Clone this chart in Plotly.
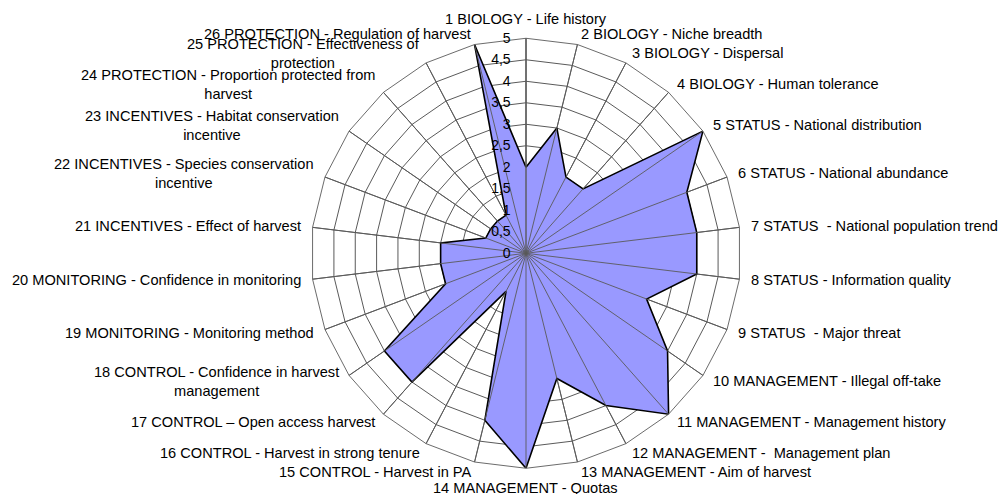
import math
import plotly.graph_objects as go

# Indicator labels, clockwise from the top
categories = [
    "1 BIOLOGY - Life history",
    "2 BIOLOGY - Niche breadth",
    "3 BIOLOGY - Dispersal",
    "4 BIOLOGY - Human tolerance",
    "5 STATUS - National distribution",
    "6 STATUS - National abundance",
    "7 STATUS\u00a0 - National population trend",
    "8 STATUS - Information quality",
    "9 STATUS\u00a0 - Major threat",
    "10 MANAGEMENT - Illegal off-take",
    "11 MANAGEMENT - Management history",
    "12 MANAGEMENT -\u00a0 Management plan",
    "13 MANAGEMENT - Aim of harvest",
    "14 MANAGEMENT - Quotas",
    "15 CONTROL - Harvest in PA",
    "16 CONTROL - Harvest in strong tenure",
    "17 CONTROL \u2013 Open access harvest",
    "18 CONTROL - Confidence in harvest<br>management",
    "19 MONITORING - Monitoring method",
    "20 MONITORING - Confidence in monitoring",
    "21 INCENTIVES - Effect of harvest",
    "22 INCENTIVES - Species conservation<br>incentive",
    "23 INCENTIVES - Habitat conservation<br>incentive",
    "24 PROTECTION - Proportion protected from<br>harvest",
    "25 PROTECTION - Effectiveness of<br>protection",
    "26 PROTECTION - Regulation of harvest",
]

# Score for each indicator (0-5)
scores = [2, 3, 2, 2, 5, 4, 4, 4, 3, 4, 5, 4, 3, 5, 4, 1, 4, 4, 2, 2, 2, 1, 1, 1, 1, 5]

radial_ticks = [0, 0.5, 1, 1.5, 2, 2.5, 3, 3.5, 4, 4.5, 5]
r_max = 5

GRID = "#5a5a5a"
FONT = "Liberation Sans, Arial, sans-serif"

W, H = 1000, 494
DOM_X = [0.311, 0.741]
DOM_Y = [0.0516, 0.923]

fig = go.Figure()

# Filled score polygon
fig.add_trace(go.Scatterpolar(
    r=scores + scores[:1],
    theta=categories + categories[:1],
    mode="lines",
    fill="toself",
    fillcolor="#9999FF",
    line=dict(color="black", width=1.6),
    hoverinfo="skip",
    showlegend=False,
))

# Spokes redrawn over the fill
spoke_r, spoke_t = [], []
for c in categories:
    spoke_r += [0, r_max, None]
    spoke_t += [c, c, None]
fig.add_trace(go.Scatterpolar(
    r=spoke_r,
    theta=spoke_t,
    mode="lines",
    line=dict(color=GRID, width=0.9),
    hoverinfo="skip",
    showlegend=False,
    connectgaps=False,
))

# Category labels set just outside the outer ring, anchored by direction
cx = (DOM_X[0] + DOM_X[1]) / 2          # paper units
cy = (DOM_Y[0] + DOM_Y[1]) / 2
radius_px = min((DOM_X[1] - DOM_X[0]) * W, (DOM_Y[1] - DOM_Y[0]) * H) / 2
label_gap = 10.7
n = len(categories)
annotations = []
for i, label in enumerate(categories):
    ang = 2 * math.pi * i / n            # clockwise from the top
    s, c = math.sin(ang), math.cos(ang)
    dist = radius_px + label_gap
    x = cx + dist * s / W
    y = cy + dist * c / H
    if abs(s) < 1e-6:
        xanchor = "center"
        yanchor = "bottom" if c > 0 else "top"
    else:
        xanchor = "left" if s > 0 else "right"
        yanchor = "middle"
    annotations.append(dict(
        x=x, y=y, xref="paper", yref="paper",
        text=label, showarrow=False,
        xanchor=xanchor, yanchor=yanchor, align="center",
        borderpad=0,
        font=dict(family=FONT, size=14.6, color="black"),
    ))

fig.update_layout(
    width=W,
    height=H,
    margin=dict(l=0, r=0, t=0, b=0),
    paper_bgcolor="white",
    separators=", ",
    font=dict(family=FONT, size=14, color="black"),
    annotations=annotations,
    polar=dict(
        domain=dict(x=DOM_X, y=DOM_Y),
        bgcolor="white",
        gridshape="linear",
        angularaxis=dict(
            direction="clockwise",
            rotation=90,
            categoryorder="array",
            categoryarray=categories,
            showgrid=True,
            gridcolor=GRID,
            gridwidth=0.9,
            showline=True,
            linecolor=GRID,
            linewidth=0.9,
            ticks="",
            showticklabels=False,
        ),
        radialaxis=dict(
            range=[0, r_max],
            tickvals=radial_ticks,
            angle=90,
            side="counterclockwise",
            tickangle=90,
            showgrid=True,
            gridcolor=GRID,
            gridwidth=0.9,
            showline=True,
            linecolor=GRID,
            linewidth=0.9,
            ticks="outside",
            ticklen=10,
            tickcolor="rgba(0,0,0,0)",
            tickfont=dict(family=FONT, size=14, color="black"),
        ),
    ),
)

fig.write_html("out.html")
